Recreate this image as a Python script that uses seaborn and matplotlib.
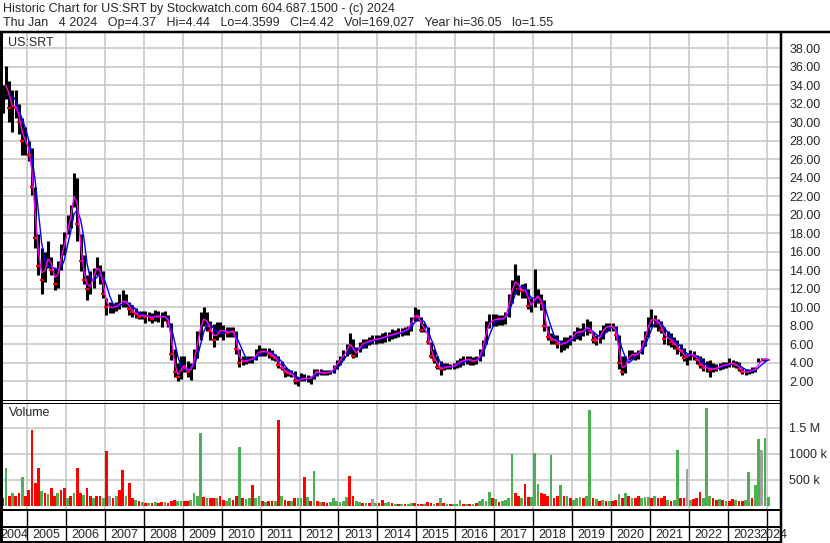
import numpy as np
import pandas as pd
import seaborn as sns
import matplotlib.pyplot as plt
from matplotlib.lines import Line2D

# monthly bars, May 2004 .. Jan 2024
first_month, last_month = "2004-05", "2024-01"

high = [
    34.0, 36.05, 34.5, 33.5, 33.5, 32.0, 30.5, 29.5,                      # 2004 May-Dec
    28.0, 27.2, 23.0, 17.9, 16.4, 16.0, 17.2, 15.4, 14.3, 15.0, 16.8, 18.2,  # 2005
    20.0, 21.1, 24.5, 24.0, 17.9, 15.7, 13.5, 13.9, 14.3, 15.5, 14.6, 13.9,  # 2006
    11.0, 10.6, 10.5, 10.6, 11.4, 11.9, 11.4, 10.6, 10.3, 9.9, 9.6, 9.6,     # 2007
    9.6, 9.5, 9.4, 9.7, 9.6, 9.5, 9.6, 9.2, 8.3, 5.5, 4.0, 4.8,              # 2008
    4.8, 4.2, 4.0, 5.5, 7.5, 9.5, 10.1, 9.5, 8.5, 8.2, 8.4, 8.4,             # 2009
    8.1, 7.9, 7.9, 7.9, 7.5, 5.5, 4.8, 4.7, 4.7, 4.8, 5.5, 5.9,              # 2010
    5.6, 5.6, 5.6, 5.4, 5.0, 4.7, 4.2, 3.6, 3.4, 3.2, 3.1, 2.5,              # 2011
    2.9, 2.8, 2.7, 2.6, 3.4, 3.4, 3.3, 3.2, 3.2, 3.2, 3.8, 4.3,              # 2012
    4.8, 5.4, 6.0, 7.2, 6.6, 5.7, 6.3, 6.6, 6.6, 6.8, 7.0, 7.0,              # 2013
    7.0, 7.2, 7.4, 7.4, 7.7, 7.6, 7.8, 7.8, 7.9, 8.0, 9.0, 10.1,             # 2014
    9.8, 9.0, 8.3, 7.9, 6.3, 5.5, 4.7, 4.2, 4.0, 4.0, 3.9, 4.0,              # 2015
    4.3, 4.5, 4.8, 4.8, 4.7, 4.6, 4.7, 5.5, 6.5, 8.5, 9.3, 9.3,              # 2016
    9.3, 9.2, 9.2, 9.5, 11.5, 13.0, 14.7, 13.5, 12.5, 12.6, 12.0, 11.0,      # 2017
    14.2, 12.0, 11.5, 10.8, 8.0, 7.2, 7.0, 7.0, 6.5, 6.8, 6.8, 7.0,          # 2018
    7.5, 7.9, 7.8, 8.3, 8.8, 8.5, 7.4, 7.0, 7.6, 8.1, 8.3, 8.3,              # 2019
    8.3, 8.0, 7.0, 4.8, 4.8, 5.4, 5.4, 5.2, 5.4, 6.5, 7.5, 9.0,              # 2020
    9.8, 9.2, 8.8, 8.5, 7.9, 7.5, 7.2, 6.8, 6.5, 6.0, 5.6, 5.0,              # 2021
    5.4, 5.3, 4.9, 4.7, 4.5, 4.2, 4.3, 4.0, 3.9, 4.0, 4.1, 4.1,              # 2022
    4.5, 4.3, 4.2, 4.1, 3.5, 3.4, 3.4, 3.6, 3.6, 4.5, 4.5, 4.5,              # 2023
    4.44,                                                                 # 2024 Jan
]

low = [
    31.0, 32.5, 30.0, 29.0, 30.5, 28.7, 26.5, 26.5,
    25.8, 22.2, 16.4, 13.5, 11.4, 12.8, 14.3, 13.5, 11.9, 12.1, 14.0, 15.7,
    17.9, 18.6, 20.8, 17.2, 13.9, 12.5, 10.8, 11.4, 12.1, 13.5, 12.5, 11.0,
    9.2, 9.4, 9.4, 9.6, 9.8, 10.0, 10.0, 9.2, 9.0, 8.9, 8.7, 8.7,
    8.3, 8.5, 8.3, 8.5, 8.4, 7.9, 8.5, 7.9, 4.3, 2.5, 2.0, 2.3,
    3.0, 2.5, 2.2, 3.3, 4.5, 6.5, 8.0, 7.5, 6.5, 5.7, 6.5, 6.8,
    6.5, 6.8, 6.8, 6.8, 5.0, 3.6, 3.8, 3.9, 4.0, 4.0, 4.3, 4.7,
    4.7, 4.8, 4.5, 4.3, 4.2, 3.5, 3.2, 2.5, 2.6, 2.5, 1.7, 1.55,
    2.0, 2.0, 1.9, 1.7, 2.3, 2.6, 2.7, 2.7, 2.7, 2.8, 2.9, 3.3,
    3.8, 4.3, 4.7, 5.0, 4.5, 4.6, 5.2, 5.6, 5.6, 5.9, 6.0, 6.0,
    6.2, 6.2, 6.3, 6.4, 6.6, 6.7, 6.8, 6.9, 7.0, 7.0, 7.5, 8.5,
    8.5, 7.4, 7.3, 6.0, 4.5, 4.0, 3.3, 2.7, 3.2, 3.3, 3.3, 3.3,
    3.5, 3.6, 3.8, 3.9, 3.8, 3.8, 3.9, 4.2, 4.8, 6.0, 7.8, 8.0,
    8.0, 8.1, 8.1, 8.2, 9.0, 10.5, 11.5, 11.3, 11.0, 11.0, 9.8, 9.5,
    10.0, 10.5, 9.7, 7.5, 6.5, 6.1, 6.1, 5.6, 5.2, 5.4, 5.6, 5.9,
    6.4, 6.6, 6.5, 6.9, 7.0, 7.2, 6.2, 5.9, 6.2, 6.6, 7.3, 7.5,
    7.5, 6.5, 3.3, 2.7, 2.9, 4.3, 4.4, 4.3, 4.4, 5.0, 5.8, 6.8,
    7.9, 7.9, 7.5, 7.2, 6.0, 5.9, 5.7, 5.5, 5.0, 4.8, 4.2, 3.8,
    4.3, 4.3, 3.9, 3.5, 3.1, 3.0, 2.5, 3.0, 3.1, 3.2, 3.4, 3.5,
    3.6, 3.6, 3.5, 3.1, 2.8, 2.7, 2.8, 2.9, 3.0, 4.1, 4.2, 4.2,
    4.36,
]

close = [
    33.5, 34.5, 31.5, 32.0, 31.5, 30.0, 28.0, 28.0,
    26.5, 23.0, 17.5, 14.5, 13.0, 15.0, 15.5, 14.0, 12.5, 14.5, 16.0, 17.5,
    19.0, 20.5, 23.5, 19.0, 15.0, 13.0, 12.0, 12.5, 14.0, 14.5, 13.5, 11.5,
    10.0, 10.0, 10.0, 10.2, 10.5, 10.8, 10.5, 9.8, 9.5, 9.3, 9.0, 9.2,
    9.0, 9.0, 8.8, 9.2, 9.0, 9.0, 9.0, 8.3, 5.0, 3.0, 2.5, 4.0,
    3.5, 3.0, 3.5, 5.0, 7.0, 8.5, 9.0, 8.0, 7.5, 6.5, 7.5, 7.5,
    7.5, 7.2, 7.5, 7.4, 5.5, 4.0, 4.3, 4.2, 4.4, 4.5, 5.0, 5.3,
    5.2, 5.3, 5.0, 4.8, 4.5, 3.8, 3.5, 3.0, 2.9, 2.8, 2.0, 2.1,
    2.4, 2.3, 2.3, 2.4, 3.1, 3.0, 3.0, 2.9, 3.0, 3.0, 3.6, 4.0,
    4.5, 5.0, 5.5, 6.5, 4.8, 5.3, 5.9, 6.2, 6.3, 6.4, 6.5, 6.6,
    6.6, 6.8, 6.9, 7.0, 7.1, 7.2, 7.3, 7.4, 7.6, 7.8, 8.8, 9.3,
    9.0, 7.6, 7.9, 6.3, 4.8, 4.3, 3.6, 3.3, 3.6, 3.6, 3.6, 3.7,
    4.0, 4.2, 4.3, 4.4, 4.3, 4.2, 4.3, 5.0, 6.2, 8.0, 8.5, 8.6,
    8.8, 8.7, 8.8, 9.2, 11.0, 12.5, 13.0, 12.0, 11.8, 12.0, 10.2, 10.2,
    11.5, 11.0, 10.5, 8.0, 6.8, 6.5, 6.6, 6.0, 6.0, 6.2, 6.4, 6.6,
    7.2, 7.4, 7.3, 7.6, 8.0, 7.5, 6.5, 6.4, 7.0, 7.8, 7.9, 8.0,
    7.9, 7.0, 4.0, 3.0, 4.3, 4.8, 5.0, 4.8, 5.2, 6.0, 7.2, 8.5,
    8.8, 8.6, 8.3, 7.6, 6.6, 6.8, 6.3, 6.0, 5.5, 5.3, 4.5, 4.8,
    5.0, 4.8, 4.3, 3.8, 3.5, 3.5, 3.2, 3.5, 3.4, 3.7, 3.8, 3.8,
    4.0, 3.9, 3.8, 3.4, 3.0, 3.0, 3.1, 3.3, 3.3, 4.3, 4.35, 4.4,
    4.42,
]

# biggest daily volume seen in each month, in thousands of shares
volume_k = [
    150, 730, 200, 250, 200, 250, 550, 200,
    300, 1460, 450, 740, 290, 250, 230, 340, 200, 250, 300, 350,
    150, 200, 250, 730, 250, 220, 340, 200, 150, 200, 200, 150,
    1060, 200, 150, 200, 310, 690, 200, 450, 150, 120, 100, 80,
    60, 60, 50, 70, 60, 80, 80, 60, 100, 120, 100, 90,
    100, 90, 120, 250, 200, 1410, 180, 150, 150, 160, 150, 200,
    120, 100, 150, 120, 200, 1140, 150, 130, 150, 400, 150, 200,
    100, 80, 100, 90, 100, 1650, 200, 120, 100, 100, 150, 150,
    150, 550, 180, 100, 680, 100, 80, 80, 60, 80, 150, 100,
    80, 100, 180, 570, 200, 100, 80, 60, 60, 60, 140, 60,
    50, 110, 60, 80, 50, 40, 40, 40, 40, 40, 50, 60,
    40, 40, 40, 80, 50, 40, 60, 160, 50, 40, 40, 40,
    40, 110, 40, 40, 40, 40, 60, 100, 130, 100, 260, 160,
    140, 80, 100, 120, 150, 1000, 250, 200, 150, 420, 180, 180,
    1020, 420, 250, 225, 200, 980, 150, 200, 400, 200, 200, 150,
    120, 150, 180, 150, 200, 1840, 150, 140, 100, 120, 100, 100,
    100, 120, 240, 150, 250, 200, 150, 150, 190, 150, 180, 180,
    150, 190, 150, 160, 190, 120, 100, 120, 1080, 150, 150, 710,
    120, 130, 150, 260, 150, 1880, 200, 150, 120, 130, 120, 100,
    100, 140, 120, 100, 100, 120, 650, 150, 400, 1280, 1080, 1310,
    169,
]

# day direction of those volume bars: u = up, d = down, f = unchanged
volume_dir = (
    "d u d u d d u d "
    "d d d d u d u d d u d d "
    "u d u d d u d d u d d u "
    "d f d u d d u d d u d u "
    "d u d u d d u d d d u u "
    "d d u u u u d u d d u d "
    "d u u d d u d u u d u u "
    "d u d d u d u d d u d u "
    "u d u d u d u d d u u u "
    "u u u d d u u d u d f u "
    "d d u u d u d u d u u d "
    "d d u d d u d u d u d u "
    "u u d u d u d u u u u d "
    "u d u u u u d d u d d u "
    "u u d d d u d d u d u d "
    "u u u d u u d u d u d u "
    "d d u d u d u d d u u u "
    "d u d d d u d u u d d f "
    "u d d d u u u d d u d u "
    "d d u d d u u d u u f u "
    "u"
).split()

price_ticks = list(range(2, 39, 2))
volume_ticks = [500e3, 1000e3, 1500e3]
volume_tick_labels = ["500 k", "1000 k", "1.5 M"]
years = list(range(2004, 2025))

months = pd.period_range(first_month, last_month, freq="M")
assert len(months) == len(high) == len(low) == len(close) == len(volume_k) == len(volume_dir)

df = pd.DataFrame({
    "t": months.year + (months.month - 0.5) / 12,
    "high": high, "low": low, "close": close,
    "volume": np.array(volume_k) * 1000, "dir": volume_dir,
})
df["ma_fast"] = df["close"].rolling(2).mean()
df["ma_slow"] = df["close"].rolling(4).mean()
down = df["close"] < df["close"].shift(1)

sns.set_style("white")
plt.rcParams["font.family"] = ["Liberation Sans", "DejaVu Sans"]

W, H = 830, 543
fig = plt.figure(figsize=(W / 100, H / 100), dpi=100)


def box(x0, y0, x1, y1):
    return [x0 / W, 1 - y1 / H, (x1 - x0) / W, (y1 - y0) / H]


def hline(y, x0, x1, lw=1.0):
    fig.add_artist(Line2D([x0 / W, x1 / W], [1 - y / H] * 2, color="k", lw=lw * 0.72))


def vline(x, y0, y1, lw=1.0):
    fig.add_artist(Line2D([x / W] * 2, [1 - y0 / H, 1 - y1 / H], color="k", lw=lw * 0.72))


x_lo, x_hi = 2004.357, 2024.37
grid_c = "#c8c8c8"

ax_p = fig.add_axes(box(2, 33, 781, 400))
ax_v = fig.add_axes(box(2, 402, 781, 510))
ax_x = fig.add_axes(box(2, 510, 781, 543))

for ax in (ax_p, ax_v, ax_x):
    for s in ax.spines.values():
        s.set_visible(False)
    ax.set_xticks(years[1:])
    ax.tick_params(axis="x", length=0, labelbottom=False)
    ax.set_axisbelow(True)

# price panel
ax_p.vlines(df["t"], df["low"], df["high"], color="black", lw=2.2)
ax_p.plot(df["t"][down], df["close"][down], ls="none", marker="_", ms=3, mew=1.6, color="red")
sns.lineplot(data=df, x="t", y="ma_slow", color="#0000ff", lw=1.0, estimator=None, ax=ax_p)
sns.lineplot(data=df, x="t", y="ma_fast", color="#ff00ff", lw=1.0, estimator=None, ax=ax_p)
ax_p.set_xlim(x_lo, x_hi)
ax_p.set_ylim(0, 39.65)
ax_p.set_yticks(price_ticks)
ax_p.set_yticklabels([f"{v:.2f}" for v in price_ticks])
ax_p.yaxis.tick_right()
ax_p.tick_params(axis="y", length=0, pad=6, labelsize=9)
ax_p.grid(True, color=grid_c, lw=1.2)
ax_p.set_xlabel("")
ax_p.set_ylabel("")

# volume panel
colors = df["dir"].map({"u": "#4caf50", "d": "#ff0000", "f": "#a0a0a0"})
ax_v.bar(df["t"], df["volume"], width=0.07, color=colors, lw=0)
ax_v.set_xlim(x_lo, x_hi)
ax_v.set_ylim(-77e3, 2.0e6)
ax_v.set_yticks(volume_ticks)
ax_v.set_yticklabels(volume_tick_labels)
ax_v.yaxis.tick_right()
ax_v.tick_params(axis="y", length=0, pad=6, labelsize=9)
ax_v.grid(True, color=grid_c, lw=1.2)

# year strip
ax_x.set_xlim(x_lo, x_hi)
ax_x.set_ylim(0, 1)
ax_x.set_yticks([])
ax_x.vlines(years[1:], 0, 1, color="black", lw=1.0)
for y in years:
    a, b = max(y, x_lo), min(y + 1, x_hi)
    ax_x.text((a + b) / 2, 0.24, str(y), ha="center", va="center", fontsize=9, clip_on=False)

# frame lines
hline(32, 0, W, 2.5)
hline(400, 0, 781, 1)
hline(402.5, 0, 781, 1)
hline(510, 0, 781, 2)
hline(527, 0, 781, 2)
hline(542, 0, 781, 2)
vline(1, 32, H, 3)
vline(781, 32, H, 2.5)

fig.text(3 / W, 1 - 9 / H, "Historic Chart for US:SRT by Stockwatch.com 604.687.1500 - (c) 2024",
         fontsize=9, va="center")
fig.text(3 / W, 1 - 23 / H,
         "Thu Jan   4 2024   Op=4.37   Hi=4.44   Lo=4.3599   Cl=4.42   Vol=169,027   Year hi=36.05   lo=1.55",
         fontsize=9, va="center")
fig.text(8 / W, 1 - 43 / H, "US:SRT", fontsize=9, va="center")
fig.text(9 / W, 1 - 413 / H, "Volume", fontsize=9, va="center")

fig.savefig("out.png", dpi=100, facecolor="white")
